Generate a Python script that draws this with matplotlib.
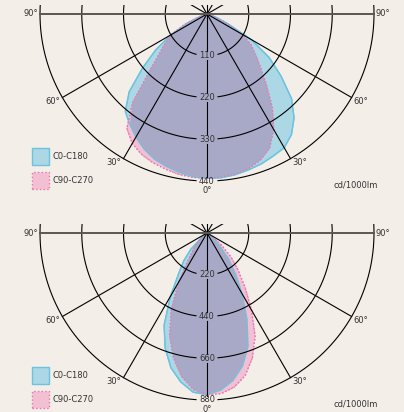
import numpy as np
import matplotlib.pyplot as plt
from matplotlib.patches import Polygon

# angles from nadir, left half negative (C180 / C270 side)
angles = np.arange(-90, 95, 5)

# luminous intensity, cd/1000lm
top_c0 = [0, 0, 0, 8, 18, 55, 110, 165, 222, 290, 335, 355, 375, 393, 407, 416, 424, 430, 433,
          433, 430, 425, 420, 413, 407, 388, 357, 315, 255, 200, 135, 60, 25, 8, 2, 0, 0]
top_c90 = [0, 0, 3, 10, 25, 65, 110, 135, 165, 215, 305, 368, 394, 408, 417, 423, 429, 432, 433,
           431, 428, 422, 410, 390, 352, 300, 243, 200, 167, 142, 108, 50, 20, 6, 2, 0, 0]
bot_c0 = [0, 0, 0, 0, 0, 0, 3, 10, 35, 120, 190, 260, 385, 535, 645, 735, 797, 842, 852,
          832, 790, 726, 635, 500, 370, 265, 180, 95, 30, 8, 0, 0, 0, 0, 0, 0, 0]
bot_c90 = [0, 0, 0, 0, 0, 0, 2, 8, 30, 70, 110, 170, 300, 445, 575, 682, 768, 828, 852,
           850, 825, 778, 700, 600, 470, 350, 255, 180, 100, 40, 15, 3, 0, 0, 0, 0, 0]

top_rings = [110, 220, 330, 440]
bot_rings = [220, 440, 660, 880]
labels = ["C0-C180", "C90-C270"]

bg = "#f3eee8"
blue = "#abd8e4"
blue_edge = "#6cc3df"
pink = "#f2c0d2"
pink_edge = "#e874b4"
both = "#a8a9c6"
ink = "#333333"

plt.rcParams["font.family"] = "DejaVu Sans"
fs = 6
fs_px = fs * 100 / 72

R = 167.0  # outer ring radius in pixels


def curve(vals, rmax):
    t = np.radians(angles)
    r = np.asarray(vals, float) / rmax
    return np.column_stack([r * np.sin(t), -r * np.cos(t)])


def draw(ax, c0, c90, rings):
    rmax = rings[-1]
    p0 = Polygon(curve(c0, rmax), closed=True, fc=blue, ec=blue_edge, lw=1, zorder=1)
    p90 = Polygon(curve(c90, rmax), closed=True, fc=pink, ec=pink_edge, lw=1,
                  ls=":", zorder=2)
    ax.add_patch(p0)
    ax.add_patch(p90)
    ax.add_patch(Polygon(curve(np.minimum(c0, c90), rmax), closed=True, fc=both,
                         ec="none", zorder=3))
    xy = curve(c0, rmax)
    ax.plot(xy[:, 0], xy[:, 1], color=blue_edge, lw=0.8, zorder=4)
    xy = curve(c90, rmax)
    ax.plot(xy[:, 0], xy[:, 1], color=pink_edge, lw=0.9, ls=":", zorder=4)

    # rings with a gap for the value label
    for v in rings:
        rk = v / rmax
        g = np.arcsin(min(1, 11 / R / rk))
        t = np.linspace(g, 2 * np.pi - g, 400)
        ax.plot(rk * np.sin(t), -rk * np.cos(t), color="black", lw=0.8, zorder=5)
        ax.text(0, -rk, str(v), ha="center", va="center", fontsize=fs, color=ink, zorder=6)

    # vertical axis, interrupted at the labels
    gap = 4.5 / R
    stops = [0] + [v / rmax for v in rings]
    for a, b in zip(stops[:-1], stops[1:]):
        ax.plot([0, 0], [-(a + (gap if a else 0)), -(b - gap)], color="black", lw=0.8, zorder=5)
    ax.plot([0, 0], [0, 0.2], color="black", lw=0.8, zorder=5)

    # spokes at 30 and 60 deg, running a little past the centre
    for a in (30, 60):
        for s in (-1, 1):
            t = np.radians(a * s)
            ax.plot([np.sin(t), -0.3 * np.sin(t)], [-np.cos(t), 0.3 * np.cos(t)],
                    color="black", lw=0.8, zorder=5)
            ha = "left" if s > 0 else "right"
            ax.text(np.sin(t) + s * 2 / R, -np.cos(t) + 1 / R, f"{a}°", ha=ha, va="top",
                    fontsize=fs, color=ink)

    ax.plot([-1, 1], [0, 0], color="#5c5650", lw=1.4, zorder=5)
    ax.text(-1 - 2 / R, 0, "90°", ha="right", va="center", fontsize=fs, color=ink)
    ax.text(1 + 2 / R, 0, "90°", ha="left", va="center", fontsize=fs, color=ink)
    ax.text(0, -1 - 9 / R, "0°", ha="center", va="center", fontsize=fs, color=ink)
    ax.text(149 / R, -171 / R, "cd/1000lm", ha="center", va="center", fontsize=fs, color=ink)

    # legend squares 17 px: height = fs*(0.65*h + 0.245)
    h = (17 / fs_px - 0.245) / 0.65
    ax.legend([p0, p90], labels, loc="upper left", frameon=False, fontsize=fs,
              bbox_to_anchor=(32 / 404, 1 - (134 + 9) / ax.bbox.height),
              borderpad=0, borderaxespad=0, handlelength=17 / fs_px,
              handleheight=h, handletextpad=0.45, labelspacing=7 / fs_px,
              labelcolor=ink)
    ax.axis("off")


fig = plt.figure(figsize=(4.04, 4.12), dpi=100, facecolor=bg)

ax1 = fig.add_axes([0, 1 - 205 / 412, 1, 200 / 412])
ax1.set_xlim(-207 / R, 197 / R)
ax1.set_ylim(-191 / R, 9 / R)
draw(ax1, top_c0, top_c90, top_rings)

ax2 = fig.add_axes([0, 0, 1, 188 / 412])
ax2.set_xlim(-207 / R, 197 / R)
ax2.set_ylim(-179 / R, 9 / R)
draw(ax2, bot_c0, bot_c90, bot_rings)

fig.savefig("out.png", dpi=100, facecolor=bg)
